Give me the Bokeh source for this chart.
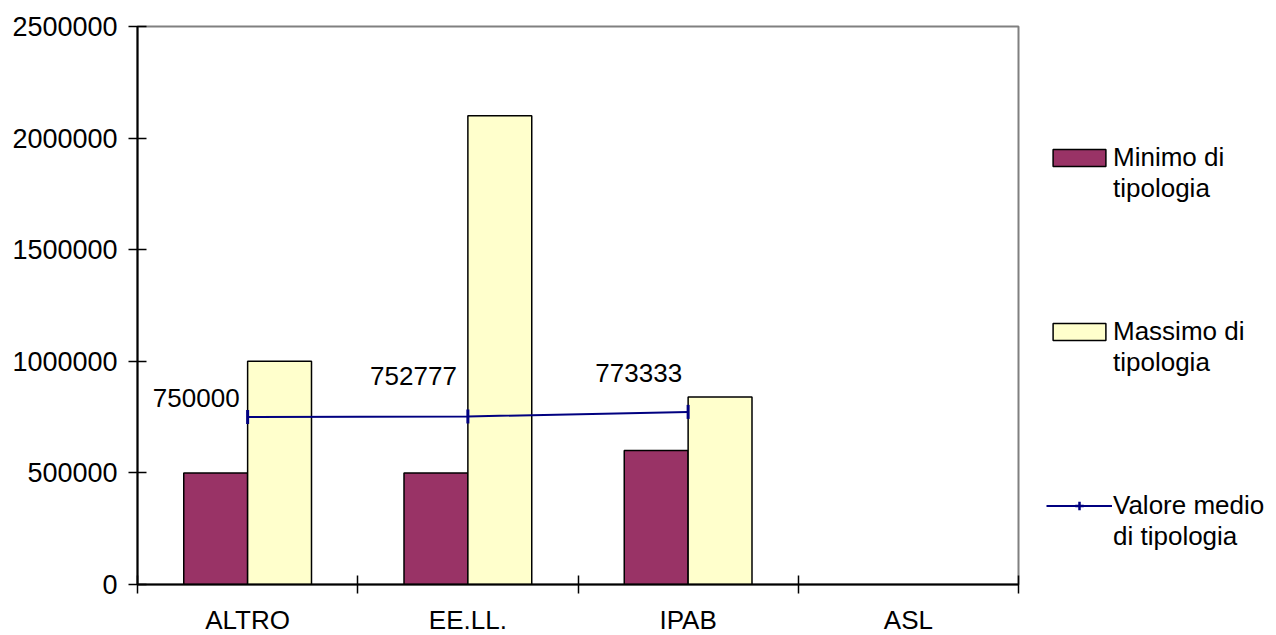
import math

from bokeh.core.properties import value
from bokeh.embed import file_html
from bokeh.models import (ColumnDataSource, FixedTicker, Legend, LegendItem,
                          LabelSet, Range1d, BasicTickFormatter)
from bokeh.plotting import figure
from bokeh.resources import INLINE
from bokeh.transform import dodge

# ---- data ----
categories = ["ALTRO", "EE.LL.", "IPAB", "ASL"]
minimo = [500000, 500000, 600000, math.nan]
massimo = [1000000, 2100000, 840000, math.nan]
medio = [750000, 752777, 773333, math.nan]
y_ticks = [0, 500000, 1000000, 1500000, 2000000, 2500000]
series_names = ["Minimo di\ntipologia", "Massimo di\ntipologia", "Valore medio\ndi tipologia"]

FONT = "Liberation Sans"
FS = "26px"
NAVY = "#000080"

centers = [i + 0.5 for i in range(len(categories))]
src = ColumnDataSource(dict(x=centers, minimo=minimo, massimo=massimo, medio=medio))

p = figure(
    frame_width=881, frame_height=558,
    min_border_left=137, min_border_right=258,
    min_border_top=26, min_border_bottom=51,
    x_range=Range1d(0, len(categories)), y_range=Range1d(0, 2500000),
    output_backend="svg", toolbar_location=None,
    background_fill_color="white", border_fill_color="white",
)
p.grid.visible = False
p.outline_line_color = "#808080"
p.outline_line_width = 2

bw = 0.29
r_min = p.vbar(x=dodge("x", -bw / 2, range=p.x_range), top="minimo", width=bw,
               source=src, fill_color="#993366", line_color="black", line_width=1.5)
r_max = p.vbar(x=dodge("x", bw / 2, range=p.x_range), top="massimo", width=bw,
               source=src, fill_color="#FFFFCC", line_color="black", line_width=1.5)

r_line = p.line("x", "medio", source=src, line_color=NAVY, line_width=2)
r_mark = p.scatter("x", "medio", source=src, marker="dash", angle=math.pi / 2,
                   size=14, line_color=NAVY, line_width=3)
# legend key for the mean series: a tick crossing the line sample (no point in the plot)
r_key = p.scatter(x=[math.nan], y=[math.nan], marker="cross", size=14,
                  line_color=NAVY, line_width=2.5)

# value labels of the mean line, placed up and to the left of each point
lab_src = ColumnDataSource(dict(
    x=centers[:3], y=medio[:3], text=[str(v) for v in medio[:3]],
    dx=[-8, -11, -6], dy=[19, 40, 39],
))
p.add_layout(LabelSet(x="x", y="y", text="text", source=lab_src,
                      x_offset="dx", y_offset="dy",
                      text_align="right", text_baseline="middle",
                      text_font=value(FONT), text_font_size=FS, text_color="black"))

# y axis
ya = p.yaxis[0]
ya.ticker = FixedTicker(ticks=y_ticks)
ya.formatter = BasicTickFormatter(use_scientific=False)
ya.axis_line_color = "black"
ya.axis_line_width = 2
ya.major_tick_in = 9
ya.major_tick_out = 9
ya.major_tick_line_width = 1.5
ya.minor_tick_line_color = None
ya.major_label_standoff = 11
ya.major_label_text_font = FONT
ya.major_label_text_font_size = "27px"
ya.major_label_text_color = "black"

# x axis: labels at category centers, tick marks on category boundaries
xa = p.xaxis[0]
xa.ticker = FixedTicker(ticks=centers, minor_ticks=list(range(len(categories) + 1)))
xa.major_label_overrides = {c: n for c, n in zip(centers, categories)}
xa.axis_line_color = "black"
xa.axis_line_width = 2
xa.major_tick_line_color = None
xa.major_tick_in = 0
xa.major_tick_out = 0
xa.minor_tick_in = 9
xa.minor_tick_out = 9
xa.minor_tick_line_color = "black"
xa.minor_tick_line_width = 1.5
xa.major_label_standoff = 11
xa.major_label_text_font = FONT
xa.major_label_text_font_size = FS
xa.major_label_text_color = "black"

# a blank leading line keeps each legend swatch level with the first line of its label
legend = Legend(
    items=[
        LegendItem(label="\u00a0\n" + name, renderers=rs)
        for name, rs in zip(series_names, [[r_min], [r_max], [r_line, r_key]])
    ],
    location=(28, 32),
    orientation="vertical",
    glyph_width=66, glyph_height=21,
    label_standoff=1,
    spacing=81,
    padding=0, margin=0,
    border_line_color=None, background_fill_alpha=0,
    label_text_font=FONT, label_text_font_size=FS,
    label_text_color="black", label_text_line_height=1.2,
)
p.add_layout(legend, "right")

open("out.html", "w").write(file_html(p, INLINE))
